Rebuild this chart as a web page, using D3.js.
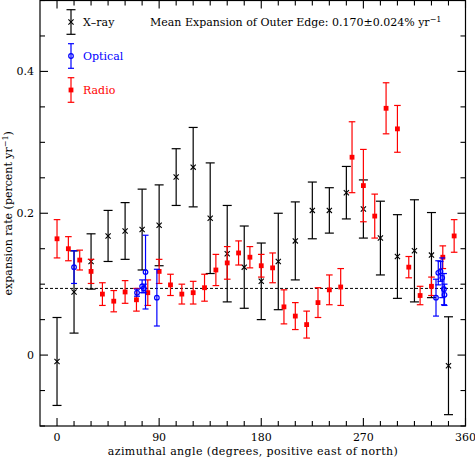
<!DOCTYPE html>
<html>
<head>
<meta charset="utf-8">
<script src="https://cdn.jsdelivr.net/npm/d3@7"></script>
<style>
  html, body { margin: 0; padding: 0; background: #fff; }
  svg { display: block; }
  text { font-family: "DejaVu Serif", serif; font-size: 11px; }
</style>
</head>
<body>
<div id="chart"></div>
<script>
// X-ray (black crosses)
const xrayAngle = [0, 15, 30, 45, 60, 75, 90, 105, 120, 135, 150, 165,
                   180, 195, 210, 225, 240, 255, 270, 285, 300, 315, 330, 345];
const xrayRate = [-0.009, 0.089, 0.132, 0.168, 0.175, 0.177, 0.183, 0.251, 0.265, 0.193, 0.143, 0.124,
                  0.104, 0.132, 0.161, 0.204, 0.204, 0.229, 0.206, 0.165, 0.139, 0.147, 0.141, -0.015];
const xrayErr = [0.062, 0.058, 0.039, 0.036, 0.040, 0.057, 0.057, 0.040, 0.056, 0.078, 0.068, 0.058,
                 0.054, 0.068, 0.055, 0.040, 0.032, 0.037, 0.041, 0.052, 0.059, 0.072, 0.060, 0.069];

// Optical (blue open circles)
const opticalAngle = [15, 70.5, 75, 76.5, 78, 88, 334, 336, 338, 339.5, 341, 341.5];
const opticalRate = [0.124, 0.088, 0.097, 0.094, 0.117, 0.081, 0.081, 0.116, 0.118, 0.109, 0.093, 0.085];
const opticalErr = [0.023, 0.005, 0.009, 0.006, 0.052, 0.040, 0.026, 0.017, 0.014, 0.028, 0.022, 0.015];

// Radio (red filled squares)
const radioAngle = [0, 10, 20, 30, 40, 50, 60, 70, 80, 90, 100, 110,
                    120, 130, 140, 150, 160, 170, 180, 190, 200, 210, 220, 230,
                    240, 250, 260, 270, 280, 290, 300, 310, 320, 330, 340, 350];
const radioRate = [0.164, 0.150, 0.134, 0.118, 0.086, 0.076, 0.089, 0.078, 0.088, 0.118, 0.099, 0.086,
                   0.088, 0.095, 0.120, 0.130, 0.144, 0.138, 0.126, 0.123, 0.068, 0.055, 0.043, 0.074,
                   0.092, 0.096, 0.279, 0.239, 0.196, 0.348, 0.319, 0.124, 0.084, 0.097, 0.138, 0.168];
const radioErr = [0.027, 0.017, 0.014, 0.017, 0.016, 0.015, 0.016, 0.016, 0.018, 0.017, 0.015, 0.014,
                  0.016, 0.019, 0.022, 0.023, 0.017, 0.015, 0.016, 0.021, 0.024, 0.019, 0.019, 0.021,
                  0.021, 0.026, 0.050, 0.051, 0.031, 0.036, 0.033, 0.015, 0.013, 0.013, 0.016, 0.023];

const meanLevel = 0.094;
const xTickLabels = [0, 90, 180, 270, 360];
const yTickLabels = [0, 0.2, 0.4];

const width = 475, height = 458;
const margin = {left: 40, right: 9.5, top: 0.5, bottom: 32};

const svg = d3.select("#chart").append("svg")
    .attr("width", width)
    .attr("height", height);

const x = d3.scaleLinear().domain([-15, 360]).range([margin.left, width - margin.right]);
const y = d3.scaleLinear().domain([-0.1, 0.5]).range([height - margin.bottom, margin.top]);

const x0 = x.range()[0], x1 = x.range()[1];
const y0 = y.range()[0], y1 = y.range()[1];

// Frame
svg.append("rect")
    .attr("x", x0).attr("y", y1)
    .attr("width", x1 - x0).attr("height", y0 - y1)
    .style("fill", "none").style("stroke", "#000").style("stroke-width", 1.2);

// Ticks: every 15 degrees, major every 90
const xTicks = d3.range(0, 361, 15);
const yTicks = d3.range(-0.1, 0.501, 0.05).map(v => +v.toFixed(2));
const ticks = svg.append("g").style("stroke", "#000").style("stroke-width", 1.1);
xTicks.forEach(t => {
    const len = t % 90 === 0 ? 8 : 5;
    ticks.append("line").attr("x1", x(t)).attr("x2", x(t)).attr("y1", y0).attr("y2", y0 - len);
    ticks.append("line").attr("x1", x(t)).attr("x2", x(t)).attr("y1", y1).attr("y2", y1 + len);
});
yTicks.forEach(t => {
    const major = Math.abs(Math.round(t * 100) % 20) === 0;
    const len = major ? 8 : 5;
    ticks.append("line").attr("x1", x0).attr("x2", x0 + len).attr("y1", y(t)).attr("y2", y(t));
    ticks.append("line").attr("x1", x1).attr("x2", x1 - len).attr("y1", y(t)).attr("y2", y(t));
});

// Tick labels
svg.selectAll(".xlab").data(xTickLabels).enter().append("text")
    .attr("x", d => x(d)).attr("y", y0 + 15)
    .attr("text-anchor", "middle")
    .text(d => d);
svg.selectAll(".ylab").data(yTickLabels).enter().append("text")
    .attr("x", x0 - 6).attr("y", d => y(d) + 4)
    .attr("text-anchor", "end")
    .text(d => d);

// Axis titles
svg.append("text")
    .attr("x", (x0 + x1) / 2).attr("y", y0 + 29)
    .attr("text-anchor", "middle")
    .attr("textLength", 290)
    .attr("lengthAdjust", "spacing")
    .text("azimuthal angle (degrees, positive east of north)");

const ylab = svg.append("text")
    .attr("transform", `translate(12,${(y0 + y1) / 2}) rotate(-90)`)
    .attr("text-anchor", "middle");
ylab.append("tspan").text("expansion rate (percent yr");
ylab.append("tspan").attr("dy", -4).style("font-size", "8px").text("−1");
ylab.append("tspan").attr("dy", 4).text(")");

// Title
const title = svg.append("text").attr("x", 150).attr("y", 26);
title.append("tspan").text("Mean Expansion of Outer Edge: 0.170±0.024% yr");
title.append("tspan").attr("dy", -4).style("font-size", "8px").text("−1");

// Mean line
svg.append("line")
    .attr("x1", x0).attr("x2", x1)
    .attr("y1", y(meanLevel)).attr("y2", y(meanLevel))
    .style("stroke", "#000").style("stroke-width", 1)
    .style("stroke-dasharray", "3,2");

// error bar helper
function errorBars(g, px, pyLo, pyHi, cap, color) {
    g.append("line").attr("x1", px).attr("x2", px).attr("y1", pyLo).attr("y2", pyHi)
        .style("stroke", color).style("stroke-width", 1.2);
    g.append("line").attr("x1", px - cap).attr("x2", px + cap).attr("y1", pyLo).attr("y2", pyLo)
        .style("stroke", color).style("stroke-width", 1.2);
    g.append("line").attr("x1", px - cap).attr("x2", px + cap).attr("y1", pyHi).attr("y2", pyHi)
        .style("stroke", color).style("stroke-width", 1.2);
}
function cross(g, px, py) {
    const s = 2.6;
    g.append("path")
        .attr("d", `M${px - s},${py - s}L${px + s},${py + s}M${px - s},${py + s}L${px + s},${py - s}`)
        .style("stroke", "#000").style("stroke-width", 1.1).style("fill", "none");
}
function square(g, px, py) {
    g.append("rect").attr("x", px - 2.4).attr("y", py - 2.4).attr("width", 4.8).attr("height", 4.8)
        .style("fill", "#f00");
}
function circle(g, px, py) {
    g.append("circle").attr("cx", px).attr("cy", py).attr("r", 2.3)
        .style("fill", "none").style("stroke", "#00f").style("stroke-width", 1.2);
}

// X-ray
const gx = svg.append("g").attr("class", "xray");
xrayAngle.forEach((a, i) => {
    errorBars(gx, x(a), y(xrayRate[i] - xrayErr[i]), y(xrayRate[i] + xrayErr[i]), 4.5, "#000");
    cross(gx, x(a), y(xrayRate[i]));
});

// Radio
const gr = svg.append("g").attr("class", "radio");
radioAngle.forEach((a, i) => {
    errorBars(gr, x(a), y(radioRate[i] - radioErr[i]), y(radioRate[i] + radioErr[i]), 3.3, "#f00");
    square(gr, x(a), y(radioRate[i]));
});

// Optical
const go = svg.append("g").attr("class", "optical");
opticalAngle.forEach((a, i) => {
    errorBars(go, x(a), y(opticalRate[i] - opticalErr[i]), y(opticalRate[i] + opticalErr[i]), 3, "#00f");
    circle(go, x(a), y(opticalRate[i]));
});

// Legend
const legend = [
    {name: "X\u2013ray", color: "#000", cy: 22, cap: 4.5, mark: cross},
    {name: "Optical", color: "#00f", cy: 56, cap: 3, mark: circle},
    {name: "Radio", color: "#f00", cy: 90, cap: 3.3, mark: square}
];
const gl = svg.append("g").attr("class", "legend");
legend.forEach(d => {
    errorBars(gl, 71, d.cy + 12.3, d.cy - 12.3, d.cap, d.color);
    d.mark(gl, 71, d.cy);
    gl.append("text").attr("x", 83).attr("y", d.cy + 4)
        .style("fill", d.color).text(d.name);
});
</script>
</body>
</html>
